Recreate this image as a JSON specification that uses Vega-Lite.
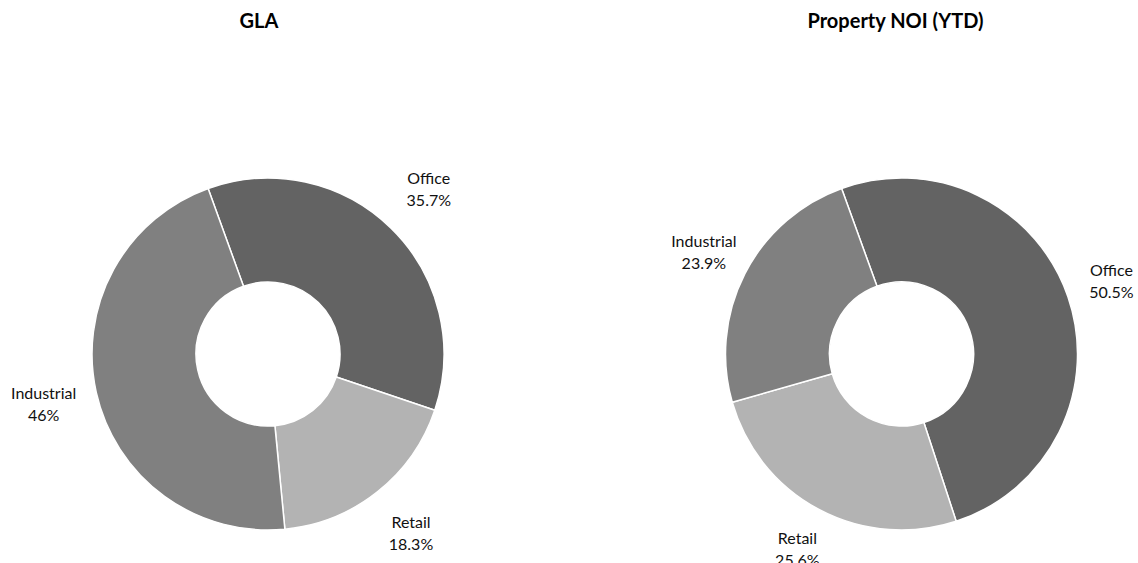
{
  "$schema": "https://vega.github.io/schema/vega-lite/v6.json",
  "padding": {"top": 12, "left": 0, "right": 0, "bottom": 0},
  "background": "white",
  "spacing": 129,
  "config": {
    "view": {"stroke": null},
    "font": "Lato",
    "title": {"font": "Lato", "fontSize": 20, "fontWeight": "bold", "color": "#000000", "anchor": "middle", "offset": 113}
  },
  "datasets": {
    "gla": [
      {"type": "Office", "value": 35.7, "pct": "35.7%"},
      {"type": "Retail", "value": 18.3, "pct": "18.3%"},
      {"type": "Industrial", "value": 46, "pct": "46%"}
    ],
    "noi": [
      {"type": "Office", "value": 50.5, "pct": "50.5%"},
      {"type": "Retail", "value": 25.6, "pct": "25.6%"},
      {"type": "Industrial", "value": 23.9, "pct": "23.9%"}
    ]
  },
  "hconcat": [
    {
      "width": 536,
      "height": 418,
      "title": {"text": "GLA", "dx": -9},
      "data": {"name": "gla"},
      "transform": [
        {"calculate": "indexof(['Office','Retail','Industrial'], datum.type)", "as": "rank"},
        {"calculate": "[datum.type, datum.pct]", "as": "label"}
      ],
      "encoding": {
        "theta": {"field": "value", "type": "quantitative", "stack": true, "scale": {"range": [-0.3473, 5.9359]}},
        "order": {"field": "rank", "type": "quantitative"}
      },
      "layer": [
        {
          "mark": {"type": "arc", "outerRadius": 176, "innerRadius": 72, "stroke": "white", "strokeWidth": 1.5},
          "encoding": {
            "color": {"field": "type", "type": "nominal", "legend": null,
              "scale": {"domain": ["Office", "Retail", "Industrial"], "range": ["#636363", "#b3b3b3", "#808080"]}}
          }
        },
        {
          "mark": {"type": "text", "radius": 230, "fontSize": 16, "font": "Lato", "lineHeight": 22, "dy": -11, "color": "#111111"},
          "encoding": {"text": {"field": "label"}}
        }
      ]
    },
    {
      "width": 473,
      "height": 418,
      "title": {"text": "Property NOI (YTD)", "dx": -6},
      "data": {"name": "noi"},
      "transform": [
        {"calculate": "indexof(['Office','Retail','Industrial'], datum.type)", "as": "rank"},
        {"calculate": "[datum.type, datum.pct]", "as": "label"}
      ],
      "encoding": {
        "theta": {"field": "value", "type": "quantitative", "stack": true, "scale": {"range": [-0.3473, 5.9359]}},
        "order": {"field": "rank", "type": "quantitative"}
      },
      "layer": [
        {
          "mark": {"type": "arc", "outerRadius": 176, "innerRadius": 72, "stroke": "white", "strokeWidth": 1.5},
          "encoding": {
            "color": {"field": "type", "type": "nominal", "legend": null,
              "scale": {"domain": ["Office", "Retail", "Industrial"], "range": ["#636363", "#b3b3b3", "#808080"]}}
          }
        },
        {
          "mark": {"type": "text", "radius": 222, "fontSize": 16, "font": "Lato", "lineHeight": 22, "dy": -11, "color": "#111111"},
          "encoding": {"text": {"field": "label"}}
        }
      ]
    }
  ],
  "resolve": {"scale": {"color": "independent", "theta": "independent"}}
}
